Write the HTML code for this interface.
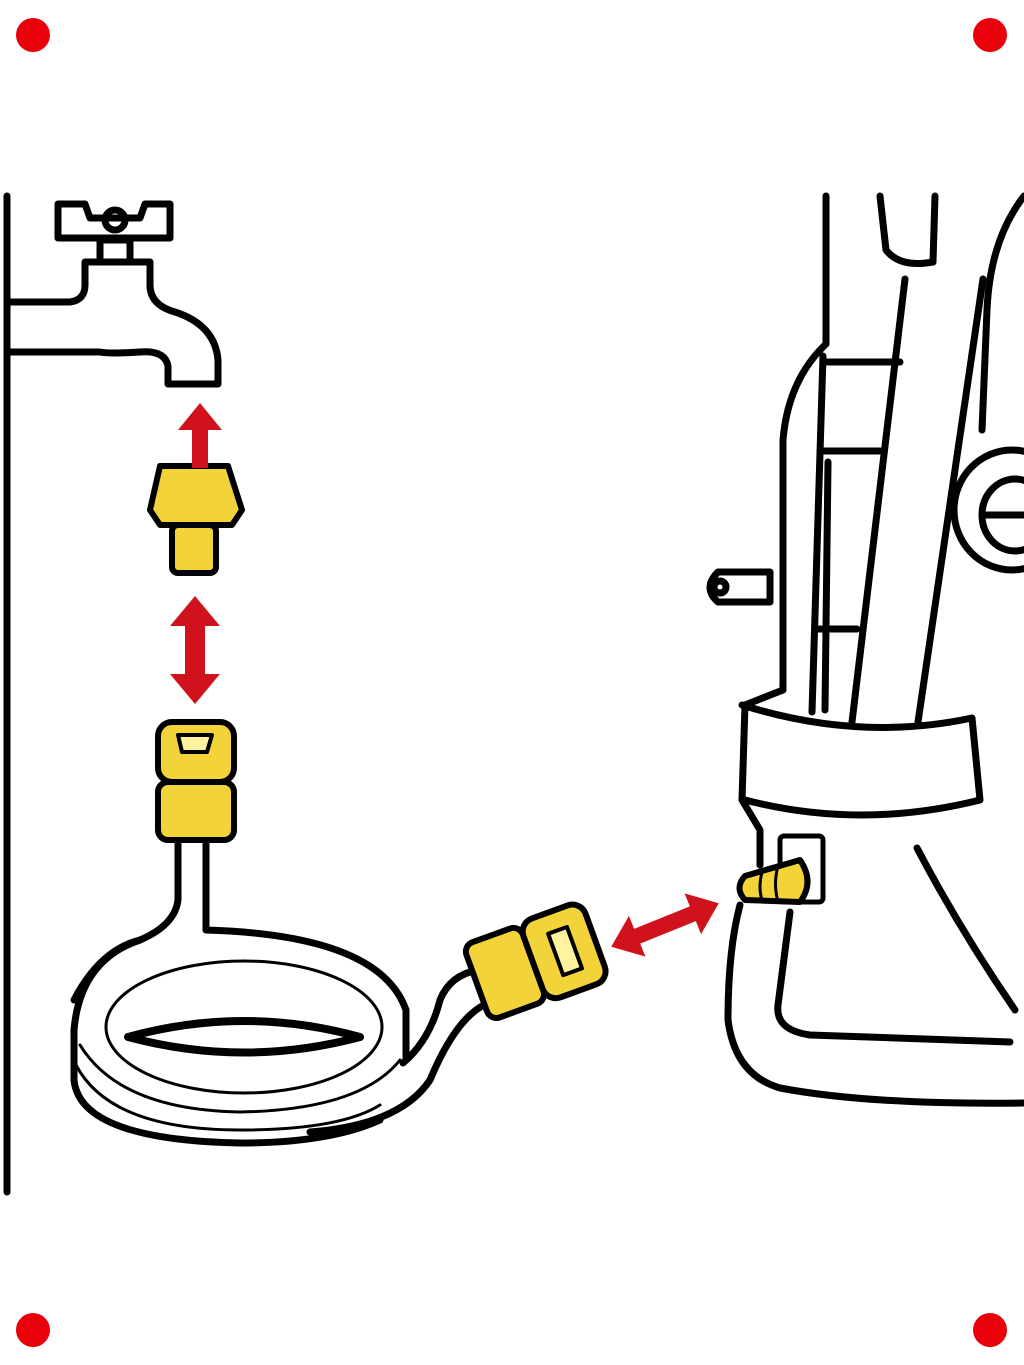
<!DOCTYPE html>
<html><head><meta charset="utf-8"><style>
html,body{margin:0;padding:0;background:#fff;}
svg{display:block;}
</style></head><body>
<svg width="1024" height="1365" viewBox="0 0 1024 1365" xmlns="http://www.w3.org/2000/svg">
<rect width="1024" height="1365" fill="#fff"/>
<g fill="#e8000b">
<circle cx="33" cy="35" r="17"/><circle cx="990" cy="35" r="17"/>
<circle cx="33" cy="1330" r="17"/><circle cx="990" cy="1330" r="17"/>
</g>
<g fill="none" stroke="#000" stroke-width="7" stroke-linejoin="round" stroke-linecap="round">
<line x1="7" y1="196" x2="7" y2="1192"/>
<!-- faucet -->
<path d="M7 302 L70 302 Q85 300 85 285 L85 262 L150 262 L150 285 Q150 305 175 312 Q215 325 218 360 L218 384 L168 384 L168 366 Q165 350 140 352 Q110 354 100 352 L7 352"/>
<path d="M100 262 L100 240 L130 240 L130 262"/>
<path d="M58 204 L58 238 L170 238 L170 204 L145 204 L140 218 L90 218 L85 204 Z"/>
<circle cx="115" cy="220" r="10"/>
<!-- hose coil -->
<path d="M178 838 L178 900 Q175 925 140 940 Q80 960 74 1030 L74 1080 Q80 1140 240 1143 Q330 1143 380 1120"/>
<path d="M206 838 L206 930 Q380 935 406 1010 L406 1060"/>
<path d="M140 940 Q100 950 74 1000"/>
<ellipse cx="244" cy="1027" rx="138" ry="66" stroke-width="3"/>
<path d="M128 1037 Q244 1005 360 1037 Q244 1068 128 1037 Z" stroke-width="8"/>
<path d="M80 1045 Q120 1110 240 1112 Q360 1110 400 1060" stroke-width="3"/>
<path d="M76 1065 Q110 1130 240 1130 Q340 1130 380 1105" stroke-width="3"/>
<!-- hose to connector -->
<path d="M403 1063 Q430 1040 440 1000 Q450 975 478 970"/>
<path d="M310 1132 Q400 1125 430 1080 Q455 1020 484 1005"/>
<!-- pressure washer -->
<path d="M826 196 L826 344 Q788 380 783 440 L783 690 L745 705 L742 800 L760 830 L760 865 M740 905 Q728 950 728 1020 Q735 1075 780 1088 Q870 1105 1024 1103"/>
<path d="M742 705 Q860 742 972 718 L980 800 Q860 830 745 800"/>
<path d="M790 912 L778 1005 Q775 1030 810 1035 L1010 1042"/>
<path d="M917 848 Q960 930 1015 1010"/>
<path d="M880 196 L886 250 Q900 268 933 262 L935 196"/>
<path d="M905 279 L852 722"/>
<path d="M983 279 L918 722"/>
<path d="M823 356 L812 712"/>
<path d="M826 362 L900 362 M820 451 L880 451"/>
<path d="M828 462 L825 710 M815 629 L857 629"/>
<path d="M1024 196 Q990 240 987 310 L982 430"/>
<ellipse cx="1012" cy="510" rx="58" ry="60"/>
<ellipse cx="1015" cy="515" rx="33" ry="36"/>
<line x1="985" y1="515" x2="1024" y2="515"/>
<path d="M770 572 L770 602 L718 602 Q702 588 718 572 Z"/>
<circle cx="720" cy="587" r="6"/>
<rect x="780" y="836" width="43" height="66" rx="4" stroke-width="5"/>
</g>
<g stroke="#000" stroke-width="6" fill="#f2d43a" stroke-linejoin="round">
<path d="M160 466 L228 466 L242 510 L232 525 L160 525 L150 510 Z"/>
<rect x="172" y="525" width="44" height="48" rx="6"/>
<rect x="158" y="722" width="76" height="60" rx="14"/>
<rect x="158" y="782" width="76" height="58" rx="10"/>
<path d="M178 735 L212 735 L207 752 L182 752 Z" fill="#fff3a0" stroke-width="4"/>
<g transform="translate(535 962) rotate(-20)">
<rect x="-62" y="-40" width="60" height="80" rx="10"/>
<rect x="-2" y="-42" width="66" height="84" rx="14"/>
<path d="M22 -22 L42 -22 L42 22 L22 22 Z" fill="#fff3a0" stroke-width="4"/>
</g>
<path d="M745 876 L800 860 Q815 882 800 902 L745 900 Q734 888 745 876 Z"/>
<path d="M762 872 Q758 888 762 900 M778 866 Q773 884 778 902" fill="none" stroke-width="3"/>
</g>
<g fill="#d0121d" stroke="none">
<path d="M200 403 L222 430 L208 430 L208 468 L192 468 L192 430 L178 430 Z"/>
<path d="M195 596 L220 626 L205 626 L205 674 L220 674 L195 704 L170 674 L185 674 L185 626 L170 626 Z"/>
<g transform="translate(665 925) rotate(-22)">
<path d="M-58 0 L-30 -22 L-30 -8 L30 -8 L30 -22 L58 0 L30 22 L30 8 L-30 8 L-30 22 Z"/>
</g>
</g>
</svg>
</body></html>
